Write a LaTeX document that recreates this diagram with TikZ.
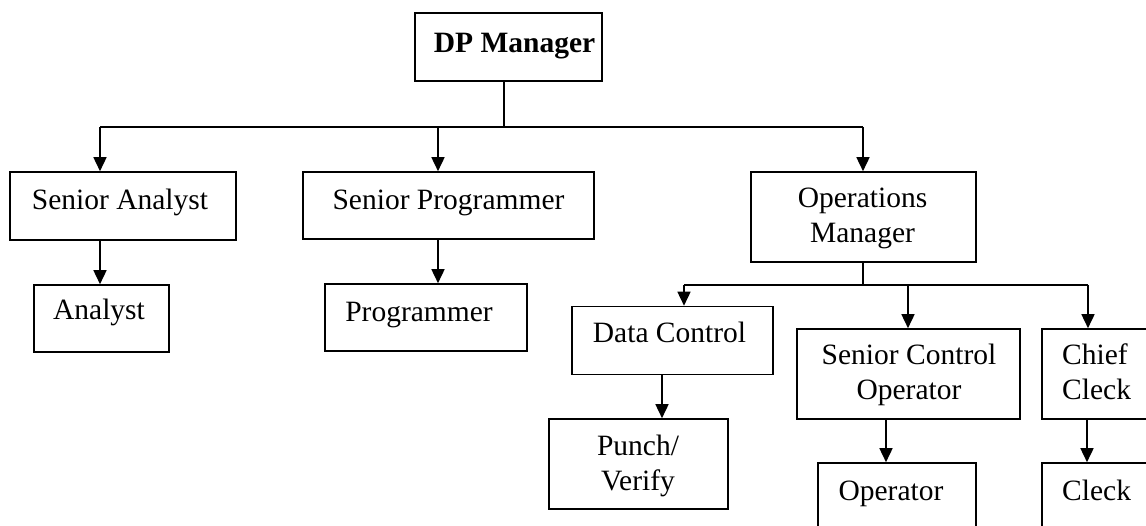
\documentclass[tikz,border=0pt]{standalone}
\usepackage{fontspec}
\setmainfont{Liberation Serif}
\usetikzlibrary{arrows.meta}
\begin{document}
\begin{tikzpicture}[x=1pt,y=-1pt,
  box/.style 2 args={draw, line width=1.6pt, inner sep=0pt, minimum width=#1, minimum height=#2},
  lbl/.style={font=\fontsize{29.5}{35.5}\selectfont, inner sep=0pt, anchor=base},
  ln/.style={line width=1.6pt},
  arr/.style={line width=1.6pt, -{Triangle[width=13pt,length=14pt]}}]
\useasboundingbox (0,0) rectangle (1146,526);
% boxes
\node[box={187}{68}] (dp) at (508.5,47) {};
\node[box={226}{68}] (sa) at (123,206) {};
\node[box={135}{67}] (an) at (101.5,318.5) {};
\node[box={291}{67}] (sp) at (448.5,205.5) {};
\node[box={202}{67}] (pr) at (426,317.5) {};
\node[box={225}{90}] (om) at (863.5,217) {};
\node[box={201}{68}] (dc) at (672.5,340.5) {};
\node[box={179}{90}] (pv) at (638.5,464) {};
\node[box={223}{90}] (sco) at (908.5,374) {};
\node[box={158}{97}] (op) at (897,511.5) {};
\node[box={118}{90}] (cc) at (1101,374) {};
\node[box={118}{97}] (ck) at (1101,511.5) {};
% labels
\node[lbl, font=\fontsize{29.5}{35.5}\selectfont\bfseries] (dpt) at (514.5,53) {DP Manager};
\node[lbl] (sat) at (120,210) {Senior Analyst};
\node[lbl] (ant) at (99,320) {Analyst};
\node[lbl] (spt) at (448.5,210) {Senior Programmer};
\node[lbl] (prt) at (419,322) {Programmer};
\node[lbl] (omt1) at (862.5,208) {Operations};
\node[lbl] (omt2) at (862.5,243) {Manager};
\node[lbl] (dct) at (669.5,343) {Data Control};
\node[lbl] (pvt1) at (638,455) {Punch/};
\node[lbl] (pvt2) at (638,490) {Verify};
\node[lbl] (scot1) at (909,365) {Senior Control};
\node[lbl] (scot2) at (909,400) {Operator};
\node[lbl] (opt) at (891,500) {Operator};
\node[lbl, anchor=base west] (cct1) at (1062,365) {Chief};
\node[lbl, anchor=base west] (cct2) at (1062,400) {Cleck};
\node[lbl, anchor=base west] (ckt) at (1062,500) {Cleck};
% junctions
\coordinate (b1) at (504,127);
\coordinate (bL) at (100,127);
\coordinate (bS) at (438,127);
\coordinate (bR) at (863,127);
\coordinate (c1) at (863,285);
\coordinate (cL) at (684,285);
\coordinate (cM) at (908,285);
\coordinate (cR) at (1088,285);
\coordinate (xdc) at (662,0);
\coordinate (xsco) at (886,0);
\coordinate (xcc) at (1087,0);
% connectors
\draw[ln] (dp.south -| b1) -- (b1);
\draw[ln] (bL) -- (bR);
\draw[arr] (bL) -- (sa.north -| bL);
\draw[arr] (bS) -- (sp.north -| bS);
\draw[arr] (bR) -- (om.north -| bR);
\draw[arr] (sa.south -| bL) -- (an.north -| bL);
\draw[arr] (sp.south -| bS) -- (pr.north -| bS);
\draw[ln] (om.south -| c1) -- (c1);
\draw[ln] (cL) -- (cR);
\draw[arr] (cL) -- (dc.north -| cL);
\draw[arr] (cM) -- (sco.north -| cM);
\draw[arr] (cR) -- (cc.north -| cR);
\draw[arr] (dc.south -| xdc) -- (pv.north -| xdc);
\draw[arr] (sco.south -| xsco) -- (op.north -| xsco);
\draw[arr] (cc.south -| xcc) -- (ck.north -| xcc);
\end{tikzpicture}
\end{document}
